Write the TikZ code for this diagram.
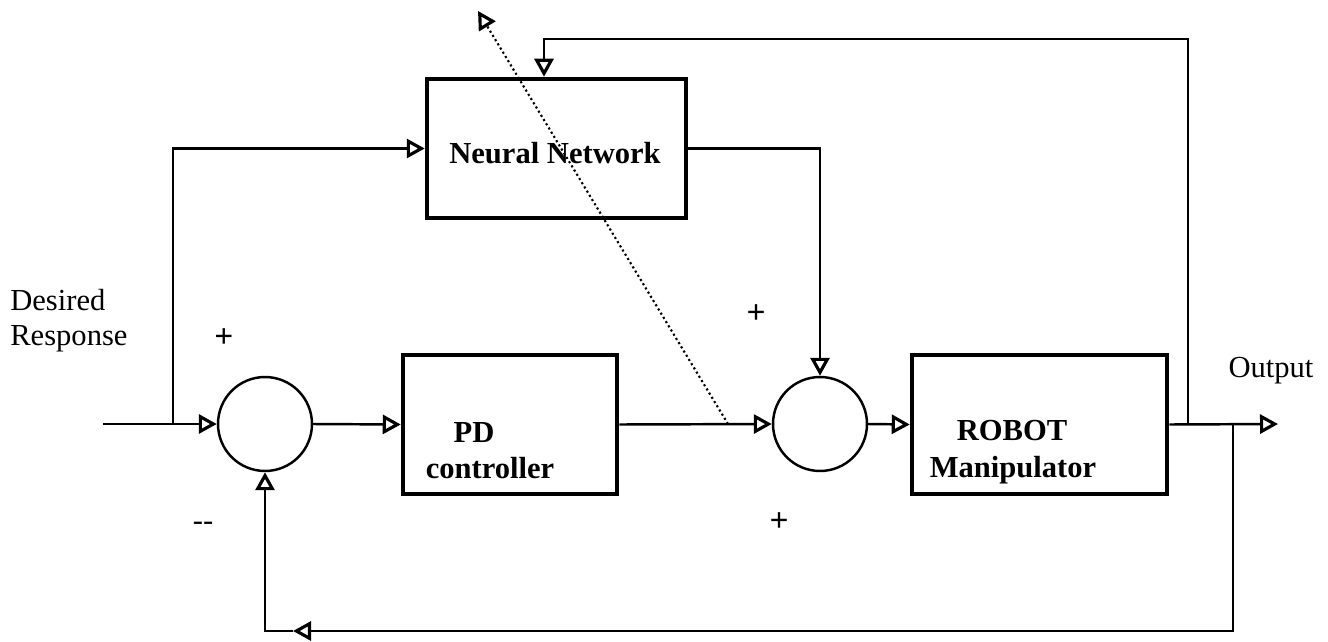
\documentclass[tikz,border=0pt]{standalone}
\usepackage{fontspec}
\setmainfont{Liberation Serif}
\usetikzlibrary{arrows.meta}
\begin{document}
\begin{tikzpicture}[x=0.02cm,y=-0.02cm,
  conn/.style={line width=1.4pt},
  arr/.style={-{Triangle[open,length=0.36cm,width=0.38cm,line width=1.8pt]}},
  blk/.style={draw,line width=2.6pt,minimum height=2.78cm,inner sep=0pt},
  sumc/.style={draw,circle,line width=1.4pt,minimum size=1.88cm,inner sep=0pt},
  lbl/.style={font=\fontsize{17.4}{20}\selectfont,inner sep=0pt},
  blbl/.style={font=\fontsize{17.4}{20}\selectfont\bfseries,inner sep=0pt,anchor=base},
  sgn/.style={font=\fontsize{19}{22}\selectfont\bfseries,inner sep=0pt}]
\useasboundingbox (0,0) rectangle (1328,642);

% blocks
\node[blk,minimum width=5.18cm] (nn) at (556.5,148.5) {};
\node[blk,minimum width=4.28cm] (pd) at (510,424.5) {};
\node[blk,minimum width=5.1cm] (rob) at (1039.5,424.5) {};
\node[sumc] (s1) at (265,424) {};
\node[sumc] (s2) at (820,424) {};

% block texts
\node[blbl] (nnt) at (555,163) {Neural Network};
\node[blbl] (pdt1) at (474,442) {PD};
\node[blbl] (pdt2) at (490,478) {controller};
\node[blbl] (rbt1) at (1012,440) {ROBOT};
\node[blbl] (rbt2) at (1013,477) {Manipulator};

% labels
\node[lbl,anchor=base west] (dr1) at (10,310) {Desired};
\node[lbl,anchor=base west] (dr2) at (10,345) {Response};
\node[lbl,anchor=base] (outl) at (1271,377) {Output};
\node[sgn] (p1) at (224,338) {+};
\node[sgn] (p2) at (756,314) {+};
\node[sgn] (p3) at (779,522) {+};
\node[lbl] (m1) at (203,526) {-{}-};

% coordinates
\coordinate (in) at (103,424);
\coordinate (br) at (173,424);
\coordinate (b1) at (1188,424);
\coordinate (b2) at (1233,424);
\coordinate (out) at (1278,424);
\coordinate (t1) at (544,39);
\coordinate (bm) at (293,631);
\coordinate (d1) at (728,424);
\coordinate (d2) at (478,11);

% connectors
\draw[conn,arr] (in) -- (s1.west);
\draw[conn,arr] (br) |- (nn.west);
\draw[conn,arr] (s1.east) -- (pd.west);
\draw[conn,arr] (pd.east) -- (s2.west);
\draw[conn,arr] (nn.east) -| (s2.north);
\draw[conn,arr] (s2.east) -- (rob.west);
\draw[conn,arr] (rob.east) -- (out);
\draw[conn,arr] (b1) |- (t1) -- (t1 |- nn.north);
\draw[conn,arr] (b2) |- (bm);
\draw[conn,arr] (bm) -| (s1.south);
\draw[line width=1.2pt,dash pattern=on 1.2pt off 1.6pt,arr] (d1) -- (d2);
\end{tikzpicture}
\end{document}
